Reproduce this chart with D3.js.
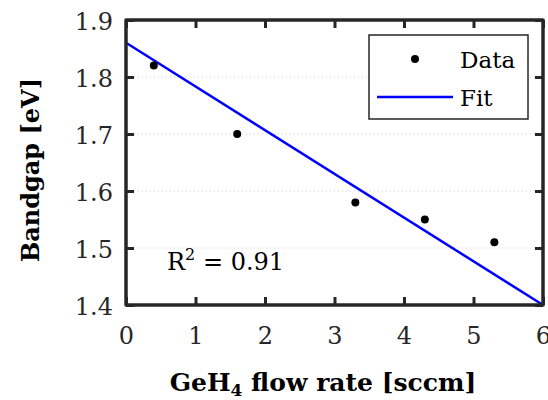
<!DOCTYPE html>
<html><head><meta charset="utf-8">
<script src="https://cdn.jsdelivr.net/npm/d3@7"></script>
<style>body{margin:0;background:#fff}</style>
</head><body>
<svg id="c" width="548" height="400"></svg>
<script>
const flowRate = [0.4, 1.6, 3.3, 4.3, 5.3];
const bandgap = [1.82, 1.70, 1.58, 1.55, 1.51];
const fitX = [0, 6];
const fitY = [1.86, 1.40];
const xTicks = [0, 1, 2, 3, 4, 5, 6];
const yTicks = [1.4, 1.5, 1.6, 1.7, 1.8, 1.9];
const r2Label = "0.91";

const svg = d3.select("#c");
const font = "'DejaVu Serif', serif";
const m = {l:126, r:5, t:20, b:95};
const W = 548, H = 400;
const x = d3.scaleLinear().domain([0,6]).range([m.l, W-m.r]);
const y = d3.scaleLinear().domain([1.4,1.9]).range([H-m.b, m.t]);
const ax = "#262626";

// grid
svg.append("g").selectAll("line").data(yTicks.filter(d=>d>1.4&&d<1.9)).join("line")
  .attr("x1", x(0)).attr("x2", x(6)).attr("y1", d=>y(d)).attr("y2", d=>y(d))
  .attr("stroke", "#d0d0d0").attr("stroke-width", 1).attr("stroke-dasharray", "1,3");

// fit line
svg.append("line").attr("x1", x(fitX[0])).attr("y1", y(fitY[0]))
  .attr("x2", x(fitX[1])).attr("y2", y(fitY[1]))
  .attr("stroke", "#0000ff").attr("stroke-width", 2.5);

// points
svg.append("g").selectAll("circle").data(flowRate).join("circle")
  .attr("cx", d=>x(d)).attr("cy", (d,i)=>y(bandgap[i])).attr("r", 4).attr("fill", "#000");

// axes
const gx = svg.append("g").attr("transform", `translate(0,${y(1.4)})`)
  .call(d3.axisBottom(x).tickValues(xTicks).tickSize(-8).tickPadding(22).tickFormat(d3.format("d")));
const gxt = svg.append("g").attr("transform", `translate(0,${y(1.9)})`)
  .call(d3.axisTop(x).tickValues(xTicks).tickSize(-8).tickFormat(""));
const gy = svg.append("g").attr("transform", `translate(${x(0)},0)`)
  .call(d3.axisLeft(y).tickValues(yTicks).tickSize(-8).tickPadding(13).tickFormat(d3.format(".1f")));
const gyr = svg.append("g").attr("transform", `translate(${x(6)},0)`)
  .call(d3.axisRight(y).tickValues(yTicks).tickSize(-8).tickFormat(""));
[gx,gxt,gy,gyr].forEach(g=>{
  g.selectAll(".domain").attr("stroke", ax).attr("stroke-width", 3);
  g.selectAll(".tick line").attr("stroke", ax).attr("stroke-width", 3);
  g.selectAll("text").attr("fill", "#262626").style("font-family", font).style("font-size", "24px");
});
gx.selectAll(".domain").attr("d", `M${x(0)},0H${x(6)}`);
gxt.selectAll(".domain").attr("d", `M${x(0)},0H${x(6)}`);
gy.selectAll(".domain").attr("d", `M0,${y(1.4)}V${y(1.9)}`);
gyr.selectAll(".domain").attr("d", `M0,${y(1.4)}V${y(1.9)}`);
gy.selectAll(".tick text").attr("dy", "0.38em");
svg.append("rect").attr("x", x(0)).attr("y", y(1.9)).attr("width", x(6)-x(0)).attr("height", y(1.4)-y(1.9))
  .attr("fill","none").attr("stroke", ax).attr("stroke-width", 3);

// labels
svg.append("text").attr("x", 323).attr("y", 391).attr("text-anchor","middle")
  .style("font-family", font).style("font-size","25px").style("font-weight","bold").attr("fill","#000")
  .html('GeH<tspan dy="5" font-size="17px">4</tspan><tspan dy="-5"> flow rate [sccm]</tspan>');
svg.append("text").attr("transform", "translate(39,170) rotate(-90)").attr("text-anchor","middle")
  .style("font-family", font).style("font-size","24px").style("font-weight","bold").attr("fill","#000")
  .text("Bandgap [eV]");

// R2
svg.append("text").attr("x", 167).attr("y", 270)
  .style("font-family", font).style("font-size","24px").attr("fill","#000")
  .html(`R<tspan dy="-10" font-size="16px">2</tspan><tspan dy="10"> = ${r2Label}</tspan>`);

// legend
const lg = svg.append("g");
lg.append("rect").attr("x", 369).attr("y", 35).attr("width", 159).attr("height", 84)
  .attr("fill","#fff").attr("stroke", ax).attr("stroke-width", 1.5);
lg.append("circle").attr("cx", 415).attr("cy", 59).attr("r", 4).attr("fill","#000");
lg.append("line").attr("x1", 377).attr("x2", 453).attr("y1", 97).attr("y2", 97)
  .attr("stroke","#0000ff").attr("stroke-width", 2.5);
lg.append("text").attr("x", 460).attr("y", 68).style("font-family", font).style("font-size","23px").attr("fill","#000").text("Data");
lg.append("text").attr("x", 460).attr("y", 106).style("font-family", font).style("font-size","23px").attr("fill","#000").text("Fit");
</script>
</body></html>
